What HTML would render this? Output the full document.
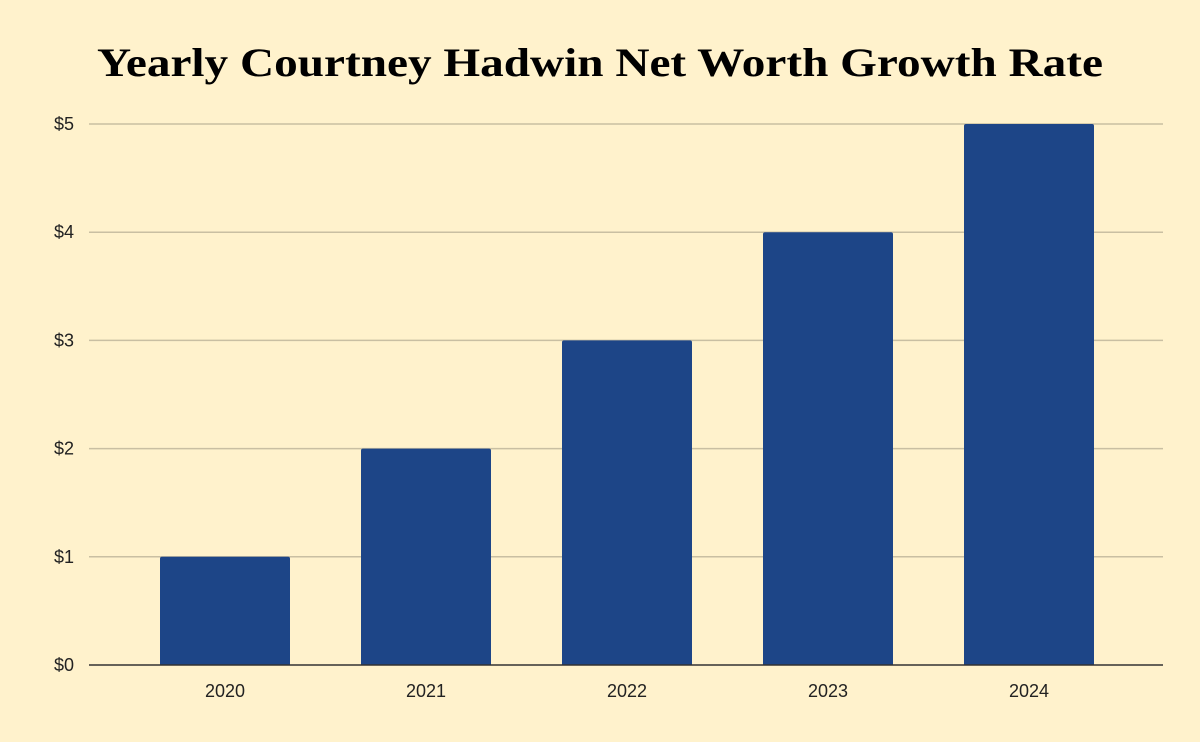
<!DOCTYPE html>
<html><head><meta charset="utf-8"><style>
html,body{margin:0;padding:0;background:#fff2cc;}
svg{display:block;}
</style></head><body>
<svg id="chart" width="1200" height="742" viewBox="0 0 1200 742" xmlns="http://www.w3.org/2000/svg">
<rect width="1200" height="742" fill="#fff2cc"/>
<text x="600" y="76" text-anchor="middle" font-family="'Liberation Serif',serif" font-weight="bold" font-size="40" textLength="1006" lengthAdjust="spacingAndGlyphs" fill="#000">Yearly Courtney Hadwin Net Worth Growth Rate</text>
<g id="grid"></g><g id="bars"></g><g id="labels"></g>
</svg>
<script>
const categories = ["2020","2021","2022","2023","2024"];
const values = [1,2,3,4,5];
const yTicks = [0,1,2,3,4,5];
const yTickLabels = ["$0","$1","$2","$3","$4","$5"];
const NS="http://www.w3.org/2000/svg";
const plotL=89, plotR=1163, y0=665, yTop=124, yMax=5;
const bandL=124.5, bandW=201;
const y=v=>y0-(v/yMax)*(y0-yTop);
const xc=i=>bandL+bandW*(i+0.5);
const grid=document.getElementById('grid'), bars=document.getElementById('bars'), labels=document.getElementById('labels');
function mk(tag,attrs){const e=document.createElementNS(NS,tag);for(const k in attrs)e.setAttribute(k,attrs[k]);return e;}
yTicks.forEach((t,i)=>{
  const l=mk('line',{x1:plotL,x2:plotR,y1:y(t),y2:y(t),stroke:t===0?'#333':'#c9bfa2','stroke-width':t===0?1.5:1.5});
  
  
  grid.appendChild(l);
  const tx=mk('text',{x:74,y:y(t)+6,'text-anchor':'end','font-family':"'Liberation Sans',sans-serif",'font-size':18,fill:'#222'});
  tx.textContent=yTickLabels[i];
  
  
  labels.appendChild(tx);
});
categories.forEach((c,i)=>{
  const w=130;
  const r=mk('path',{d:`M${xc(i)-w/2},${y0} V${y(values[i])+2} q0,-2 2,-2 H${xc(i)+w/2-2} q2,0 2,2 V${y0} Z`,fill:'#1d4587'});
  
  
  bars.appendChild(r);
  const tx=mk('text',{x:xc(i),y:697,'text-anchor':'middle','font-family':"'Liberation Sans',sans-serif",'font-size':18,fill:'#222'});
  tx.textContent=c;
  
  
  labels.appendChild(tx);
});
grid.parentNode.appendChild(grid.firstChild);
</script>
</body></html>
